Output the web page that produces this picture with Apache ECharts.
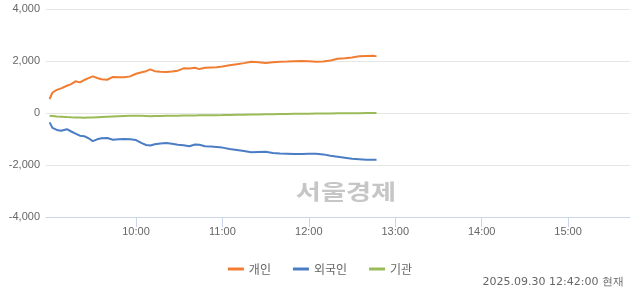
<!DOCTYPE html>
<html><head><meta charset="utf-8">
<script src="https://cdn.jsdelivr.net/npm/echarts@6/dist/echarts.min.js"></script>
<style>html,body{margin:0;padding:0;background:#fff}#c{width:640px;height:294px}</style>
</head><body><div id="c"></div>
<script>
const times = ['09:00','09:02','09:05','09:08','09:12','09:15','09:18','09:21','09:24','09:27','09:30','09:33','09:36','09:40','09:44','09:48','09:52','09:56','10:00','10:04','10:07','10:10','10:13','10:17','10:21','10:25','10:29','10:33','10:37','10:41','10:44','10:48','10:52','10:56','11:00','11:05','11:10','11:15','11:20','11:25','11:30','11:35','11:40','11:45','11:50','11:55','12:00','12:05','12:10','12:15','12:20','12:25','12:30','12:35','12:40','12:45','12:47'];
const individual = [550,800,900,960,1060,1120,1230,1190,1280,1350,1420,1360,1310,1290,1400,1390,1390,1420,1520,1580,1620,1690,1620,1600,1590,1610,1640,1730,1720,1750,1700,1750,1760,1770,1800,1850,1890,1930,1980,1960,1935,1960,1985,1990,2000,2010,2000,1985,1990,2030,2100,2120,2150,2190,2200,2210,2190];
const foreign = [-350,-560,-640,-670,-610,-700,-780,-860,-880,-960,-1070,-1000,-960,-950,-1020,-1000,-990,-1000,-1030,-1150,-1220,-1240,-1190,-1160,-1140,-1170,-1210,-1230,-1270,-1200,-1210,-1270,-1280,-1300,-1320,-1370,-1410,-1450,-1500,-1490,-1480,-1530,-1550,-1560,-1570,-1570,-1560,-1560,-1580,-1630,-1670,-1710,-1750,-1770,-1790,-1790,-1785];
const institution = [-90,-100,-120,-130,-145,-155,-160,-165,-170,-165,-160,-150,-140,-130,-120,-110,-100,-95,-90,-95,-100,-110,-105,-100,-95,-92,-90,-85,-82,-80,-78,-76,-75,-72,-70,-65,-60,-55,-50,-45,-40,-35,-30,-25,-20,-18,-15,-12,-10,-5,0,0,0,5,10,10,10];
const seriesNames = ['개인','외국인','기관'];
const xTickLabels = ['10:00','11:00','12:00','13:00','14:00','15:00'];
const stampText = '2025.09.30 12:42:00 현재';
const watermarkText = '서울경제';

const toMin = s => { const p = s.split(':'); return (+p[0]) * 60 + (+p[1]); };
const fmtMin = v => { const h = Math.floor(v / 60), m = Math.round(v % 60); return String(h).padStart(2,'0') + ':' + String(m).padStart(2,'0'); };
const pairs = arr => times.map((t, i) => [toMin(t), arr[i]]);
const xTickVals = xTickLabels.map(toMin);
const colors = ['#F07D32', '#4A7DC4', '#9BBB59'];
const font = '"Liberation Sans", Arial, sans-serif';

const chart = echarts.init(document.getElementById('c'), null, {renderer: 'canvas'});
chart.setOption({
  animation: false,
  color: colors,
  grid: {left: 46, right: 10, top: 9.3, bottom: 76.7, containLabel: false},
  xAxis: {
    type: 'value', min: 537.5, max: 943,
    axisLine: {show: true, onZero: false, lineStyle: {color: '#ccd6eb', width: 1}},
    axisTick: {show: true, customValues: xTickVals, length: 10, lineStyle: {color: '#ccd6eb'}},
    axisLabel: {customValues: xTickVals, formatter: v => fmtMin(v), color: '#666', fontSize: 11, fontFamily: font, margin: 9},
    splitLine: {show: false}
  },
  yAxis: {
    type: 'value', min: -4000, max: 4000, interval: 2000,
    axisLine: {show: false}, axisTick: {show: false},
    axisLabel: {formatter: v => v.toLocaleString('en-US'), color: '#666', fontSize: 11, fontFamily: font, margin: 6},
    splitLine: {lineStyle: {color: '#e6e6e6', width: 1}}
  },
  legend: {
    left: 'center', top: 258, icon: 'rect', itemWidth: 16, itemHeight: 3, itemGap: 22,
    textStyle: {color: '#666', fontSize: 12, fontFamily: '"Noto Sans CJK KR", sans-serif'},
    data: seriesNames
  },
  graphic: [
    {type: 'text', x: 346, y: 191, scaleX: 1.3, z: 0, silent: true,
     style: {text: watermarkText, fill: '#c6c6c6', font: 'bold 21px "Noto Sans CJK KR", sans-serif', textAlign: 'center', textVerticalAlign: 'middle'}},
    {type: 'text', right: 16, top: 277,
     style: {text: stampText, fill: '#666', font: '11px "DejaVu Sans", sans-serif'}}
  ],
  series: [
    {name: seriesNames[0], type: 'line', data: pairs(individual), showSymbol: false, lineStyle: {width: 2}, z: 3},
    {name: seriesNames[1], type: 'line', data: pairs(foreign), showSymbol: false, lineStyle: {width: 2}, z: 3},
    {name: seriesNames[2], type: 'line', data: pairs(institution), showSymbol: false, lineStyle: {width: 2}, z: 3}
  ]
});
</script></body></html>
